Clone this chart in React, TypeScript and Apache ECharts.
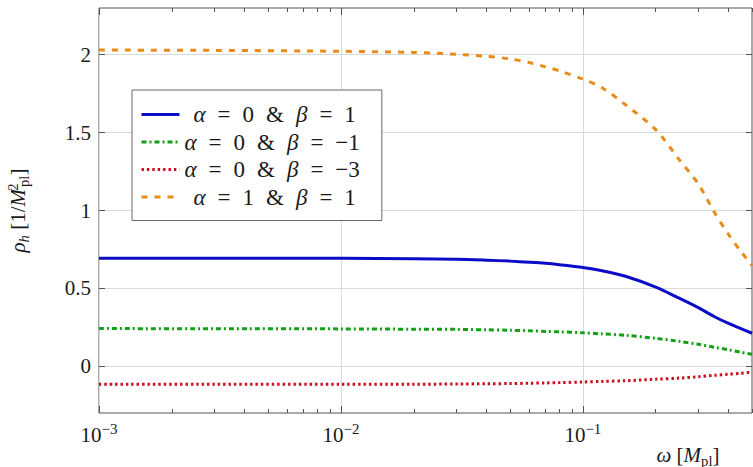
import React, { useEffect, useRef } from "react";
import * as echarts from "echarts";

// Frequency grid ω [M_pl]
const omega = [0.001, 0.003, 0.01, 0.02, 0.03, 0.04, 0.05, 0.06, 0.07, 0.08, 0.1, 0.12, 0.15, 0.2, 0.25, 0.3, 0.35, 0.4, 0.45, 0.5];

// ρ_h for each (α, β) pair
const rhoA0B1 = [0.694, 0.694, 0.693, 0.690, 0.687, 0.681, 0.675, 0.668, 0.661, 0.652, 0.634, 0.613, 0.578, 0.508, 0.437, 0.376, 0.318, 0.275, 0.242, 0.212];
const rhoA0Bm1 = [0.242, 0.241, 0.240, 0.238, 0.237, 0.234, 0.231, 0.228, 0.224, 0.221, 0.215, 0.208, 0.199, 0.179, 0.160, 0.141, 0.122, 0.106, 0.090, 0.077];
const rhoA0Bm3 = [-0.115, -0.115, -0.115, -0.115, -0.114, -0.112, -0.111, -0.109, -0.107, -0.105, -0.101, -0.097, -0.093, -0.083, -0.076, -0.067, -0.058, -0.051, -0.045, -0.037];
const rhoA1B1 = [2.030, 2.028, 2.022, 2.015, 2.003, 1.990, 1.973, 1.950, 1.922, 1.897, 1.843, 1.788, 1.679, 1.519, 1.327, 1.170, 0.987, 0.846, 0.737, 0.647];

const seriesNames = ["α = 0 & β = 1", "α = 0 & β = −1", "α = 0 & β = −3", "α = 1 & β = 1"];

const xMajorTicks = [0.001, 0.01, 0.1];
const xMinorTicks = [
  0.002, 0.003, 0.004, 0.005, 0.006, 0.007, 0.008, 0.009,
  0.02, 0.03, 0.04, 0.05, 0.06, 0.07, 0.08, 0.09,
  0.2, 0.3, 0.4, 0.5,
];
const yTicks = [0, 0.5, 1, 1.5, 2];

const SERIF = "Liberation Serif";
const INK = "#1a1a1a";
const FRAME = "#555";

const mathRich = (size: number) => ({
  r: { fontFamily: SERIF, fontSize: size, color: INK, lineHeight: 26, verticalAlign: "middle" },
  i: { fontFamily: SERIF, fontStyle: "italic", fontSize: size, color: INK, lineHeight: 26, verticalAlign: "middle" },
  sb: { fontFamily: SERIF, fontSize: size * 0.7, color: INK, lineHeight: 14, verticalAlign: "bottom" },
  si: { fontFamily: SERIF, fontStyle: "italic", fontSize: size * 0.7, color: INK, lineHeight: 14, verticalAlign: "bottom" },
  k: { fontFamily: SERIF, fontSize: size * 0.7, width: 2, lineHeight: 14 },
  sp: { fontFamily: SERIF, fontSize: size * 0.7, color: INK, lineHeight: 14, verticalAlign: "top", width: 0, align: "left" },
});

function legendLabel(name: string): string {
  const m = name.match(/α = (\S+) & β = (\S+)/);
  if (!m) return name;
  const pad = m[2].startsWith("−") ? "" : "{p| }";
  return `${pad}{i|α}{g| }{r|=}{g| }{r|${m[1]}}{g| }{r|&}{g| }{i|β}{g| }{r|=}{g| }{r|${m[2]}}`;
}

export default function App() {
  const ref = useRef<HTMLDivElement>(null);

  useEffect(() => {
    if (!ref.current) return;
    const chart = echarts.init(ref.current, null, { renderer: "svg" });

    const colors = ["#0c0cc8", "#14a014", "#cc0c1c", "#ea8a18"];
    const dashes: any[] = ["solid", [5, 3, 2, 3], [2.4, 3], [6, 7]];
    const values = [rhoA0B1, rhoA0Bm1, rhoA0Bm3, rhoA1B1];

    const logAxisBase = {
      type: "log" as const,
      logBase: 10,
      min: 0.001,
      max: 0.5,
      axisLine: { show: false, onZero: false },
      splitLine: { show: false },
      axisLabel: { show: false },
    };

    const option: any = {
      animation: false,
      backgroundColor: "#fff",
      grid: {
        left: 99,
        right: 1,
        top: 8,
        bottom: 54,
        show: true,
        borderColor: FRAME,
        borderWidth: 1,
        outerBoundsMode: "none",
      },
      legend: {
        orient: "vertical",
        left: 132,
        top: 90,
        itemWidth: 38,
        itemHeight: 14,
        itemGap: 4.5,
        padding: [13, 22, 12, 8],
        borderColor: "#666",
        borderWidth: 1,
        borderRadius: 0,
        backgroundColor: "#fff",
        data: seriesNames,
        lineStyle: { width: "inherit" },
        itemStyle: { opacity: 0 },
        formatter: legendLabel,
        textStyle: {
          fontFamily: SERIF,
          fontSize: 23,
          color: INK,
          rich: {
            r: { fontFamily: SERIF, fontSize: 23, color: INK, lineHeight: 22 },
            i: { fontFamily: SERIF, fontStyle: "italic", fontSize: 23, color: INK, lineHeight: 22 },
            g: { fontFamily: SERIF, fontSize: 23, width: 12, lineHeight: 22 },
            p: { fontFamily: SERIF, fontSize: 23, width: 9, lineHeight: 22 },
          },
        },
      },
      xAxis: [
        {
          ...logAxisBase,
          position: "bottom",
          axisTick: { show: true, inside: true, length: 7, customValues: xMajorTicks, lineStyle: { color: FRAME } },
          axisLabel: {
            show: true,
            customValues: xMajorTicks,
            margin: 8,
            formatter: (v: number) => {
              const e = Math.round(Math.log10(v));
              return `{b|10}{e|${e < 0 ? "−" + -e : e}}`;
            },
            rich: {
              b: { fontFamily: SERIF, fontSize: 21, color: INK, lineHeight: 24, verticalAlign: "bottom" },
              e: { fontFamily: SERIF, fontSize: 15, color: INK, lineHeight: 14, verticalAlign: "top" },
            },
          },
          splitLine: { show: true, lineStyle: { color: "#dadada", width: 1 } },
          name: "{i|ω}{r| [}{i|M}{sb|pl}{r|]}",
          nameLocation: "end",
          nameGap: -64,
          nameTextStyle: {
            align: "center",
            verticalAlign: "top",
            padding: [29, 0, 0, 0],
            rich: mathRich(21),
          },
        },
        {
          ...logAxisBase,
          position: "top",
          axisTick: { show: true, inside: true, length: 7, customValues: xMajorTicks, lineStyle: { color: FRAME } },
        },
        {
          ...logAxisBase,
          position: "bottom",
          axisTick: { show: true, inside: true, length: 4, customValues: xMinorTicks, lineStyle: { color: FRAME } },
        },
        {
          ...logAxisBase,
          position: "top",
          axisTick: { show: true, inside: true, length: 4, customValues: xMinorTicks, lineStyle: { color: FRAME } },
        },
      ],
      yAxis: [
        {
          type: "value",
          min: -0.3,
          max: 2.3,
          position: "left",
          axisLine: { show: false, onZero: false },
          axisTick: { show: true, inside: true, length: 6, customValues: yTicks, lineStyle: { color: FRAME } },
          axisLabel: {
            customValues: yTicks,
            margin: 8,
            fontFamily: SERIF,
            fontSize: 21,
            color: INK,
          },
          splitLine: { show: true, lineStyle: { color: "#dadada", width: 1 } },
          name: "{i|ρ}{si|h}{r| [1/}{i|M}{k| }{sp|2}{sb|pl}{r|]}",
          nameLocation: "middle",
          nameRotate: 90,
          nameGap: 68,
          nameTextStyle: { rich: mathRich(21) },
        },
        {
          type: "value",
          min: -0.3,
          max: 2.3,
          position: "right",
          axisLine: { show: false, onZero: false },
          axisTick: { show: true, inside: true, length: 6, customValues: yTicks, lineStyle: { color: FRAME } },
          axisLabel: { show: false },
          splitLine: { show: false },
        },
      ],
      series: seriesNames.map((name, k) => ({
        name,
        type: "line",
        xAxisIndex: 0,
        yAxisIndex: 0,
        symbol: "none",
        smooth: 0.3,
        clip: true,
        data: omega.map((w, j) => [w, values[k][j]]),
        lineStyle: { color: colors[k], width: 3, type: dashes[k], cap: "butt" },
        itemStyle: { color: colors[k] },
        z: 3 + k,
      })),
    };

    chart.setOption(option);
    return () => chart.dispose();
  }, []);

  return (
    <div
      ref={ref}
      style={{ position: "fixed", left: 0, top: 0, width: 753, height: 467, background: "#fff" }}
    />
  );
}
